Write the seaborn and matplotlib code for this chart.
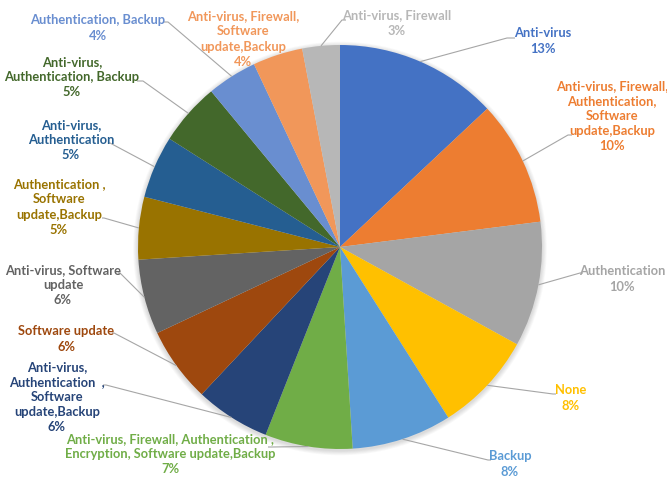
import numpy as np
import matplotlib
matplotlib.use("Agg")
import matplotlib.pyplot as plt
from matplotlib.patches import Circle
import seaborn as sns

# Security measures in use and their share of respondents (%)
categories = [
    "Anti-virus",
    "Anti-virus, Firewall,\nAuthentication,\nSoftware\nupdate,Backup",
    "Authentication",
    "None",
    "Backup",
    "Anti-virus, Firewall, Authentication ,\nEncryption, Software update,Backup",
    "Anti-virus,\nAuthentication  ,\nSoftware\nupdate,Backup",
    "Software update",
    "Anti-virus, Software\nupdate",
    "Authentication ,\nSoftware\nupdate,Backup",
    "Anti-virus,\nAuthentication",
    "Anti-virus,\nAuthentication, Backup",
    "Authentication, Backup",
    "Anti-virus, Firewall,\nSoftware\nupdate,Backup",
    "Anti-virus, Firewall",
]
shares = [13, 10, 10, 8, 8, 7, 6, 6, 6, 5, 5, 5, 4, 4, 3]

colors = [
    "#4472C4", "#ED7D31", "#A5A5A5", "#FFC000", "#5B9BD5",
    "#70AD47", "#264478", "#9E480E", "#636363", "#997300",
    "#255E91", "#43682B", "#698ED0", "#F1975A", "#B7B7B7",
]
text_colors = [
    "#4472C4", "#ED7D31", "#A5A5A5", "#FFC000", "#5B9BD5",
    "#70AD47", "#264478", "#9E480E", "#636363", "#997300",
    "#255E91", "#43682B", "#698ED0", "#F1975A", "#B7B7B7",
]

# Label block centres and leader-line elbows, in pixel units (origin top-left)
label_pos = [
    (543, 41), (612, 116), (622, 279), (571, 398), (510, 464),
    (170, 454), (57, 397), (66, 339), (63, 285), (59, 207),
    (71, 140), (72, 77), (98, 28), (243, 39), (397, 23),
]
elbows = [
    ((507, 38), (515, 38)),
    ((568, 135), (572, 135)),
    ((580, 273), (583, 273)),
    ((553, 394), (556, 394)),
    ((488, 460), (491, 460)),
    ((272, 447), (268, 447)),
    ((106, 385), (103, 385)),
    ((114, 333), (112, 333)),
    ((120, 273), (118, 273)),
    ((104, 218), (102, 218)),
    ((110, 143), (108, 143)),
    ((143, 81), (137, 81)),
    ((168, 22), (163, 22)),
    None,
    ((342, 20), (346, 20)),
]

W, H = 667, 479
CX, CY, R = 340, 247, 202

sns.set_theme(style="white")
plt.rcParams["font.family"] = ["Lato", "DejaVu Sans"]


def fy(y):
    return H - y


fig = plt.figure(figsize=(W / 100, H / 100), dpi=100)
ax = fig.add_axes([0, 0, 1, 1])

# soft drop shadow around the pie
for k in range(6, 0, -1):
    ax.add_patch(Circle((CX, fy(CY) - 1.5), R + k * 0.8, color="black",
                        alpha=0.025, lw=0, zorder=0))

wedges, _ = ax.pie(shares, colors=colors, startangle=90, counterclock=False,
                   center=(CX, fy(CY)), radius=R,
                   wedgeprops=dict(linewidth=0))

ax.set_xlim(0, W)
ax.set_ylim(0, H)
ax.set_aspect("equal")
ax.axis("off")

for w, cat, val, tc, pos, elb in zip(wedges, categories, shares, text_colors,
                                     label_pos, elbows):
    ax.text(pos[0], fy(pos[1]), f"{cat}\n{val}%", ha="center", va="center",
            multialignment="center", color=tc, fontsize=9.3,
            fontweight="bold", linespacing=1.32, zorder=5)
    if elb is None:
        continue
    mid = np.deg2rad((w.theta1 + w.theta2) / 2)
    sx = CX + R * np.cos(mid)
    sy = fy(CY) + R * np.sin(mid)
    (ex, ey), (tx, ty) = elb
    ax.plot([sx, ex, tx], [sy, fy(ey), fy(ty)], color="#A6A6A6", lw=0.8,
            zorder=4, solid_capstyle="butt")

fig.savefig("out.png", dpi=100, facecolor="white")
